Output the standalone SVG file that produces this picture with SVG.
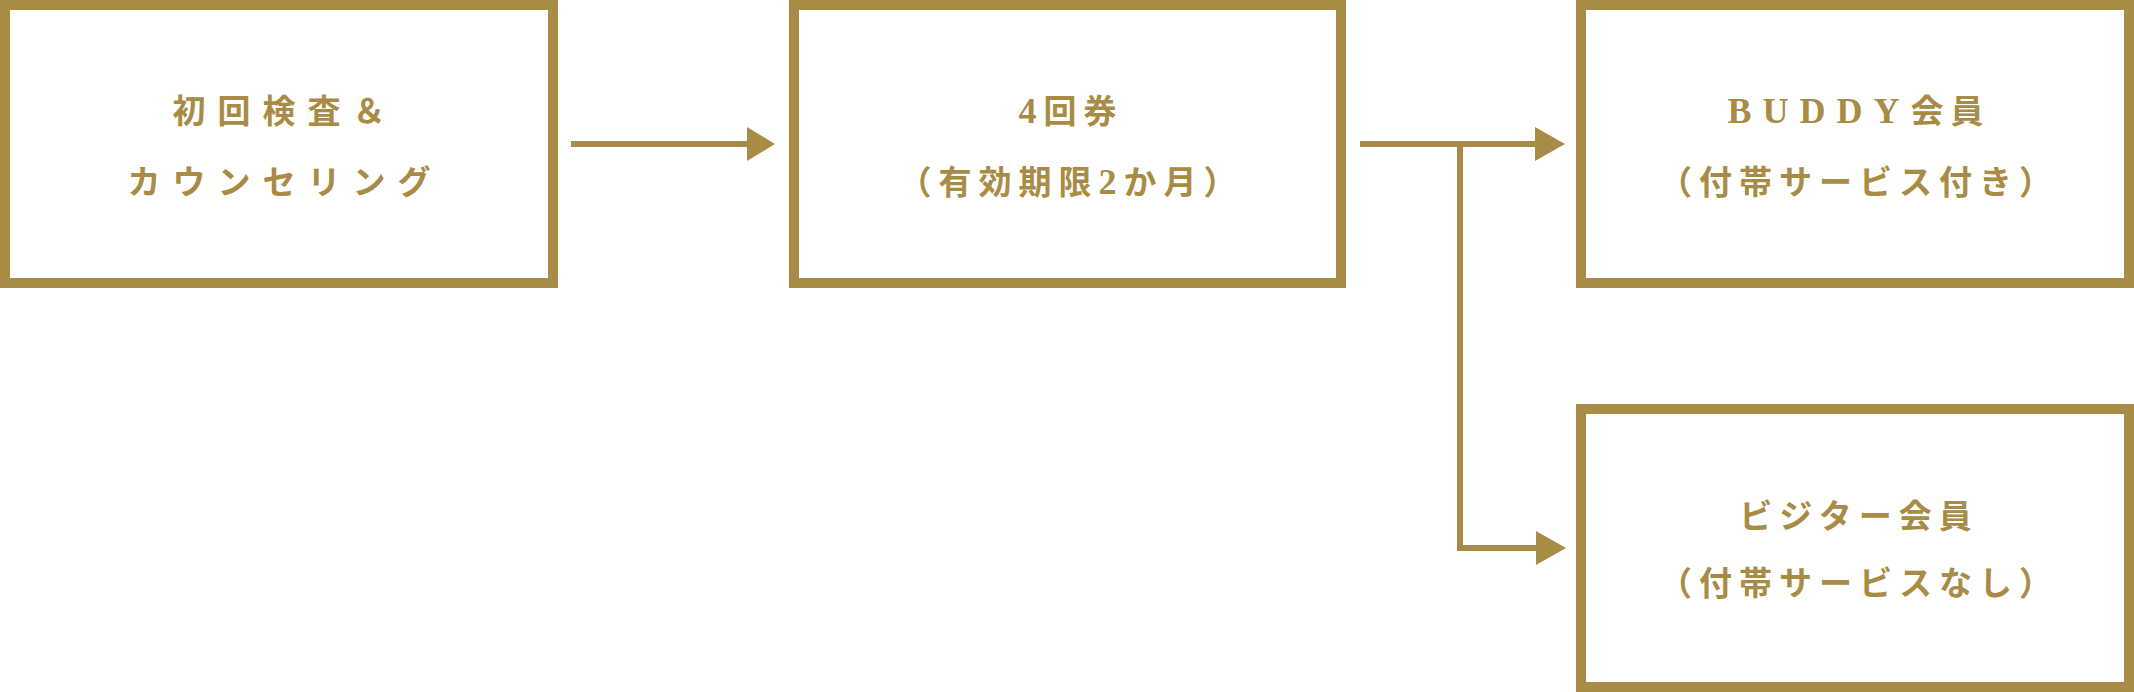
<svg xmlns="http://www.w3.org/2000/svg" width="2134" height="692" viewBox="0 0 2134 692">
  <style>
    .box { fill: #ffffff; stroke: #a88c45; stroke-width: 10; }
    .lbl { fill: #a88c45; font-family: "Liberation Serif", "Noto Sans CJK JP", serif; font-size: 33px; font-weight: 600; text-anchor: middle; letter-spacing: 7px; }
    .wide { letter-spacing: 12px; }
    .lat { font-size: 36px; }
    .conn { stroke: #a88c45; stroke-width: 6; fill: none; }
    .head { fill: #a88c45; }
  </style>
  <rect width="2134" height="692" fill="#ffffff"/>
  <g id="node-initial">
    <rect class="box" x="5" y="5" width="548" height="278"/>
    <text class="lbl wide" x="285" y="123">初回検査＆</text>
    <text class="lbl wide" x="285" y="194">カウンセリング</text>
  </g>
  <g id="node-ticket">
    <rect class="box" x="794" y="5" width="547" height="278"/>
    <text class="lbl" x="1071" y="123"><tspan class="lat">4</tspan>回券</text>
    <text class="lbl" x="1071" y="194">（有効期限<tspan class="lat">2</tspan>か月）</text>
  </g>
  <g id="node-buddy">
    <rect class="box" x="1581" y="5" width="548" height="278"/>
    <text class="lbl" x="1859" y="123"><tspan class="lat" style="letter-spacing:11px">BUDDY</tspan>会員</text>
    <text class="lbl" x="1859" y="194">（付帯サービス付き）</text>
  </g>
  <g id="node-visitor">
    <rect class="box" x="1581" y="409" width="548" height="278"/>
    <text class="lbl" x="1859" y="528">ビジター会員</text>
    <text class="lbl" x="1859" y="595">（付帯サービスなし）</text>
  </g>
  <g id="connectors">
    <line class="conn" x1="571" y1="144" x2="749" y2="144"/>
    <polygon class="head" points="747,127 775,144 747,161"/>
    <line class="conn" x1="1360" y1="144" x2="1537" y2="144"/>
    <polygon class="head" points="1535,127 1565,144 1535,161"/>
    <polyline class="conn" points="1460,144 1460,548 1538,548"/>
    <polygon class="head" points="1536,531 1566,548 1536,565"/>
  </g>
</svg>
